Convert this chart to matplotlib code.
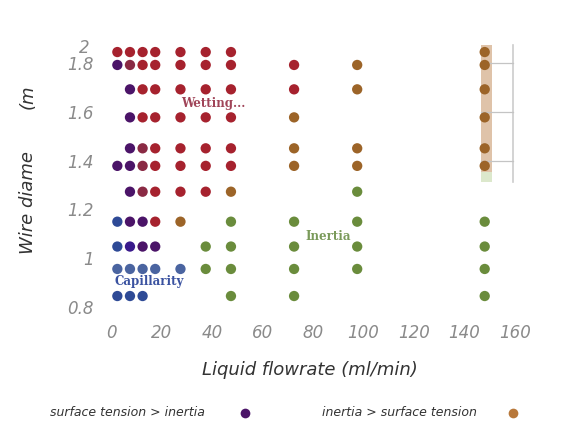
import matplotlib.pyplot as plt
from matplotlib.lines import Line2D
from matplotlib.patches import Rectangle

##########################################
#Data: flowrate columns, wire diameter rows and the regime code of each cell
flowrates = [2.5, 7.5, 12.5, 17.5, 27.5, 37.5, 47.5, 72.5, 97.5, 148]
diameters = [1.845, 1.792, 1.692, 1.577, 1.45, 1.378, 1.272, 1.149, 1.047, 0.955, 0.844]

#one string per diameter row, one char per flowrate ('.' = not measured)
regime_rows = [
	'RRRRRRR..O',
	'PMRRRRRROO',
	'.PRRRRRROO',
	'.PRRRRRO.O',
	'.PMRRRROOO',
	'PPMRRRROOO',
	'.PMRRRO.G.',
	'BPPRO.GGGG',
	'BIPP.GGGGG',
	'SSSSSGGGGG',
	'BBB...GG.G',
]

regime_colors = {'R': '#a6222e', 'P': '#4b1468', 'M': '#8a2a44', 'O': '#9c6428',
	'G': '#6a8c3c', 'B': '#2e4a96', 'I': '#3a1a8c', 'S': '#4a64a0'}

regime_labels = ['Wetting...', 'Capillarity', 'Inertia']
legend_labels = ['surface tension > inertia', 'inertia > surface tension']

##########################################
#Figure
fig = plt.figure(figsize=[5.83, 4.30], dpi=100)
ax = fig.add_axes([0.1818, 0.2753, 0.7232, 0.6235])
ax.set_xlim(-2, 165)
ax.set_ylim(0.78, 1.88)

#leftover bar and grid fragment behind the 148 ml/min column
ax.add_patch(Rectangle((146.5, 1.353), 4.4, 0.521, facecolor='#d8b494', alpha=0.8, lw=0, zorder=1))
ax.add_patch(Rectangle((146.5, 1.312), 4.4, 0.041, facecolor='#dce8cc', lw=0, zorder=1))
ax.plot([159.2, 159.2], [1.312, 1.874], color='#cccccc', lw=1.2, zorder=1)
for gy in [1.8, 1.6, 1.4]:
	ax.plot([146.5, 159.2], [gy, gy], color='#c4c4c4', lw=0.9, zorder=1)

for di, row in enumerate(regime_rows):
	for fi, code in enumerate(row):
		if code == '.':
			continue
		ax.scatter(flowrates[fi], diameters[di], s=55, color=regime_colors[code], edgecolors='none', zorder=3)

#Regime labels
ax.text(40.5, 1.635, regime_labels[0], family='DejaVu Serif', fontweight='bold', fontsize=8.5, color='#a04458', ha='center', va='center', zorder=4)
ax.text(15, 0.905, regime_labels[1], family='DejaVu Serif', fontweight='bold', fontsize=8.5, color='#3a52a0', ha='center', va='center', zorder=4)
ax.text(86, 1.09, regime_labels[2], family='DejaVu Serif', fontweight='bold', fontsize=8.5, color='#7a9a5a', ha='center', va='center', zorder=4)

#Axes styling
for side in ax.spines:
	ax.spines[side].set_visible(False)
ax.set_xticks(range(0, 161, 20))
ax.set_yticks([0.8, 1.0, 1.2, 1.4, 1.6, 1.8])
ax.set_yticklabels(['0.8', '1', '1.2', '1.4', '1.6', '1.8'])
ax.tick_params(length=0, labelsize=12, labelcolor='#8a8a8a', pad=9)
for lab in ax.get_xticklabels() + ax.get_yticklabels():
	lab.set_style('italic')
ax.text(-0.04, 1.86, '2', transform=ax.get_yaxis_transform(), ha='right', va='center', fontsize=12, style='italic', color='#8a8a8a')

#Axis titles
fig.text(310/583, 1-370/430, 'Liquid flowrate (ml/min)', ha='center', va='center', fontsize=13, style='italic', color='#333333')
fig.text(28/583, 1-203/430, 'Wire diame', ha='center', va='center', rotation=90, fontsize=13, style='italic', color='#333333')
fig.text(28/583, 1-97/430, '(m', ha='center', va='center', rotation=90, fontsize=13, style='italic', color='#333333')

#Legend under the plot
fig.text(50/583, 1-413/430, legend_labels[0], ha='left', va='center', fontsize=9, style='italic', color='#333333')
fig.text(322/583, 1-413/430, legend_labels[1], ha='left', va='center', fontsize=9, style='italic', color='#333333')
fig.add_artist(Line2D([245/583], [1-413/430], marker='o', ms=7, color=regime_colors['P'], mec='none', transform=fig.transFigure))
fig.add_artist(Line2D([513/583], [1-413/430], marker='o', ms=7, color='#b8783a', mec='none', transform=fig.transFigure))

#Save
plt.savefig('out.png', dpi=100)
plt.close()
